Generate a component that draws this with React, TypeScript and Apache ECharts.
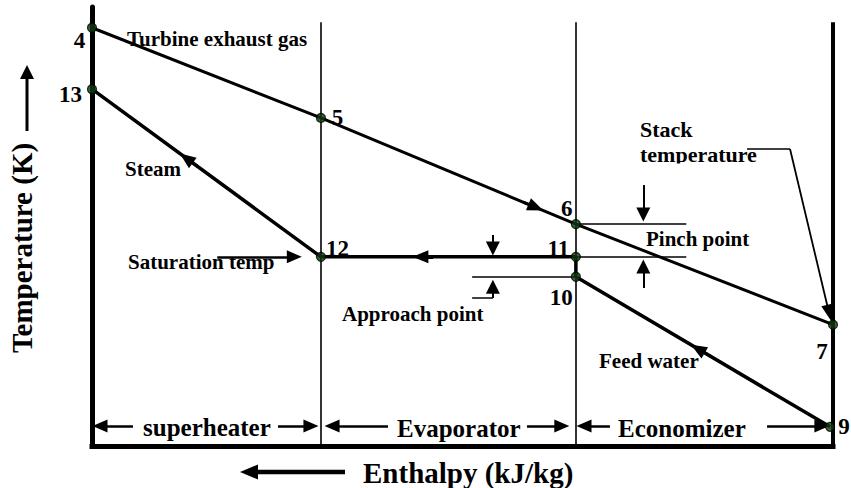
import React, { useEffect, useRef } from "react";
import * as echarts from "echarts";

// ---- Data (enthalpy in % of total duty, temperature in K) ----
const gasLabels = ["4", "5", "6", "7"];
const gasEnthalpy = [0, 30.9, 65.3, 100];
const gasTemperature = [804, 691, 558, 432];

const waterLabels = ["9", "10", "11", "12", "13"];
const waterEnthalpy = [99.6, 65.3, 65.3, 30.9, 0];
const waterTemperature = [304, 492, 517, 517, 727];

const sectionNames = ["superheater", "Evaporator", "Economizer"];
const sectionBounds = [0, 30.9, 65.3, 100];

const enthalpyRange = [0, 100];
const temperatureRange = [280, 830];

// flow direction arrows: index along the line, fraction of the segment
const flowArrows = [
  { line: "gas", from: 1, to: 2, at: 0.843 },
  { line: "water", from: 3, to: 4, at: 0.588 },
  { line: "water", from: 2, to: 3, at: 0.61 },
  { line: "water", from: 0, to: 1, at: 0.52 },
];

const FONT = "'Liberation Serif', 'Times New Roman', Times, serif";

export default function App() {
  const ref = useRef<HTMLDivElement>(null);

  useEffect(() => {
    const chart = echarts.init(ref.current!, null, { renderer: "svg" });

    const gasPts = gasEnthalpy.map((h, i) => [h, gasTemperature[i]]);
    const waterPts = waterEnthalpy.map((h, i) => [h, waterTemperature[i]]);
    const pts: Record<string, number[][]> = { gas: gasPts, water: waterPts };

    const lerp = (a: number[], b: number[], t: number) => [
      a[0] + (b[0] - a[0]) * t,
      a[1] + (b[1] - a[1]) * t,
    ];

    const flowArrowData = flowArrows.map((f) => {
      const a = pts[f.line][f.from];
      const b = pts[f.line][f.to];
      return { coords: [lerp(a, b, f.at - 0.05), lerp(a, b, f.at)] };
    });

    const tMin = temperatureRange[0];
    const sectionTop = 811;
    const sectionY = 305;

    const labelOffsets: Record<string, number[]> = {
      "4": [-12.5, 12.5],
      "13": [-21.5, 5.5],
      "5": [16.5, -0.5],
      "6": [-9, -16],
      "12": [16.5, -8.5],
      "11": [-17.5, -8.5],
      "10": [-14.5, 20.5],
      "7": [-11, 26.5],
      "9": [14, 0],
    };

    const pointData = [
      ...gasLabels.map((n, i) => ({ name: n, value: gasPts[i] })),
      ...waterLabels.map((n, i) => ({ name: n, value: waterPts[i] })),
    ];

    // section arrows (centers of arrow heads)
    const sectionArrowData = [
      [[5.53, sectionY], [1.08, sectionY]],
      [[25.1, sectionY], [29.55, sectionY]],
      [[39.95, sectionY], [32.4, sectionY]],
      [[58.7, sectionY], [63.4, sectionY]],
      [[69.9, sectionY], [66.4, sectionY]],
      [[91.1, sectionY], [98.5, sectionY]],
    ].map((c) => ({ coords: c }));

    const thinLines = [
      [[gasEnthalpy[2], gasTemperature[2]], [80.2, gasTemperature[2]]],
      [[waterEnthalpy[2], waterTemperature[2]], [80.2, waterTemperature[2]]],
      [[51.3, waterTemperature[1]], [waterEnthalpy[1], waterTemperature[1]]],
      [[51.3, 465.4], [54.1, 465.4]],
      [[88.4, 652.1], [94.2, 652.1]],
    ].map((c) => ({ coords: c }));

    const thinArrows = [
      [[74.4, 607], [74.4, 570]],
      [[74.4, 478], [74.4, 505]],
      [[54.1, 544.4], [54.1, 527.5]],
      [[54.1, 465.4], [54.1, 479.5]],
    ].map((c) => ({ coords: c }));

    const textGraphics = [
      { text: "Turbine exhaust gas", x: 127, y: 39, size: 21 },
      { text: "Steam", x: 125, y: 169, size: 21 },
      { text: "Saturation temp", x: 128, y: 262, size: 21 },
      { text: "Approach point", x: 342, y: 314, size: 21 },
      { text: "Pinch point", x: 646, y: 239, size: 21 },
      { text: "Stack", x: 640, y: 129.5, size: 22 },
      { text: "temperature", x: 640, y: 154.5, size: 22 },
      { text: "Feed water", x: 599, y: 361, size: 21 },
      { text: sectionNames[0], x: 143, y: 427, size: 25 },
      { text: sectionNames[1], x: 397, y: 428, size: 25 },
      { text: sectionNames[2], x: 618, y: 428, size: 25 },
      { text: "Enthalpy (kJ/kg)", x: 363, y: 473, size: 29 },
    ].map((t) => ({
      type: "text",
      x: t.x,
      y: t.y,
      z: 50,
      style: {
        text: t.text,
        fill: "#000",
        font: `bold ${t.size}px ${FONT}`,
        align: "left",
        verticalAlign: "middle",
      },
    }));

    const otherGraphics = [
      {
        type: "rect",
        z: 60,
        shape: { x: 636, y: 163.5, width: 112, height: 9 },
        style: { fill: "#fff" },
      },
      {
        type: "text",
        x: 22,
        y: 248,
        rotation: Math.PI / 2,
        z: 50,
        style: {
          text: "Temperature (K)",
          fill: "#000",
          font: `bold 29px ${FONT}`,
          align: "center",
          verticalAlign: "middle",
        },
      },
      {
        type: "line",
        z: 50,
        shape: { x1: 27, y1: 131, x2: 27, y2: 76 },
        style: { stroke: "#000", lineWidth: 3 },
      },
      {
        type: "polygon",
        z: 50,
        shape: { points: [[27, 65], [20, 79], [34, 79]] },
        style: { fill: "#000" },
      },
      {
        type: "line",
        z: 50,
        shape: { x1: 345, y1: 472, x2: 254, y2: 472 },
        style: { stroke: "#000", lineWidth: 4.5 },
      },
      {
        type: "polygon",
        z: 50,
        shape: { points: [[240, 472], [258, 464.5], [258, 479.5]] },
        style: { fill: "#000" },
      },
    ];

    const option: any = {
      animation: false,
      backgroundColor: "#fff",
      grid: {
        left: 92,
        right: 18,
        top: 7,
        bottom: 42,
        containLabel: false,
        outerBoundsMode: "none",
      },
      xAxis: {
        type: "value",
        min: enthalpyRange[0],
        max: enthalpyRange[1],
        axisLine: {
          show: true,
          onZero: false,
          lineStyle: { color: "#000", width: 5, cap: "square" },
        },
        axisTick: { show: false },
        axisLabel: { show: false },
        splitLine: { show: false },
      },
      yAxis: {
        type: "value",
        min: temperatureRange[0],
        max: temperatureRange[1],
        axisLine: {
          show: true,
          onZero: false,
          lineStyle: { color: "#000", width: 5 },
        },
        axisTick: { show: false },
        axisLabel: { show: false },
        splitLine: { show: false },
      },
      series: [
        {
          type: "lines",
          coordinateSystem: "cartesian2d",
          z: 2,
          lineStyle: { color: "#000", width: 1.6, opacity: 1 },
          data: [
            { coords: [[sectionBounds[1], tMin], [sectionBounds[1], sectionTop]] },
            { coords: [[sectionBounds[2], tMin], [sectionBounds[2], sectionTop]] },
          ],
        },
        {
          type: "lines",
          coordinateSystem: "cartesian2d",
          z: 2,
          lineStyle: { color: "#000", width: 4, opacity: 1 },
          data: [
            { coords: [[sectionBounds[3], tMin], [sectionBounds[3], sectionTop]] },
          ],
        },
        {
          name: "Turbine exhaust gas",
          type: "line",
          z: 3,
          data: gasPts,
          symbol: "none",
          lineStyle: { color: "#000", width: 3 },
        },
        {
          name: "Water / steam",
          type: "line",
          z: 3,
          data: waterPts,
          symbol: "none",
          lineStyle: { color: "#000", width: 3.5 },
        },
        {
          type: "lines",
          coordinateSystem: "cartesian2d",
          z: 4,
          symbol: ["none", "triangle"],
          symbolSize: [[13, 16], [13, 16]],
          lineStyle: { color: "#000", width: 3, opacity: 1 },
          data: flowArrowData,
        },
        {
          type: "lines",
          coordinateSystem: "cartesian2d",
          z: 4,
          lineStyle: { color: "#000", width: 1.5, opacity: 1 },
          data: thinLines,
        },
        {
          type: "lines",
          coordinateSystem: "cartesian2d",
          z: 4,
          symbol: ["none", "triangle"],
          symbolSize: [[14, 14], [14, 14]],
          lineStyle: { color: "#000", width: 2, opacity: 1 },
          data: thinArrows,
        },
        {
          type: "lines",
          coordinateSystem: "cartesian2d",
          z: 4,
          symbol: ["none", "triangle"],
          symbolSize: [[12, 16], [12, 16]],
          lineStyle: { color: "#000", width: 1.8, opacity: 1 },
          data: [{ coords: [[94.2, 652.1], [99.46, 447]] }],
        },
        {
          type: "lines",
          coordinateSystem: "cartesian2d",
          z: 4,
          symbol: ["none", "triangle"],
          symbolSize: [[13, 15], [13, 15]],
          lineStyle: { color: "#000", width: 2.6, opacity: 1 },
          data: [
            { coords: [[16.9, waterTemperature[3]], [27.3, waterTemperature[3]]] },
            ...sectionArrowData,
          ],
        },
        {
          type: "scatter",
          z: 6,
          symbol: "circle",
          symbolSize: 9,
          itemStyle: { color: "#0d3b0d", borderColor: "#000", borderWidth: 1.2 },
          label: { show: false },
          data: pointData,
        },
      ],
      graphic: [...textGraphics, ...otherGraphics],
    };

    chart.setOption(option);

    // state-point numbers, placed through the chart's own scales
    const numberGraphics = pointData.map((d) => {
      const p = chart.convertToPixel({ gridIndex: 0 }, d.value) as number[];
      const off = labelOffsets[d.name];
      return {
        type: "text",
        x: p[0] + off[0],
        y: p[1] + off[1],
        z: 55,
        style: {
          text: d.name,
          fill: "#000",
          font: `bold 23px ${FONT}`,
          align: "center",
          verticalAlign: "middle",
        },
      };
    });
    chart.setOption({
      graphic: [...textGraphics, ...otherGraphics, ...numberGraphics],
    });

    return () => chart.dispose();
  }, []);

  return (
    <div
      ref={ref}
      style={{
        position: "fixed",
        left: 0,
        top: 0,
        width: 851,
        height: 488,
        background: "#fff",
      }}
    />
  );
}
